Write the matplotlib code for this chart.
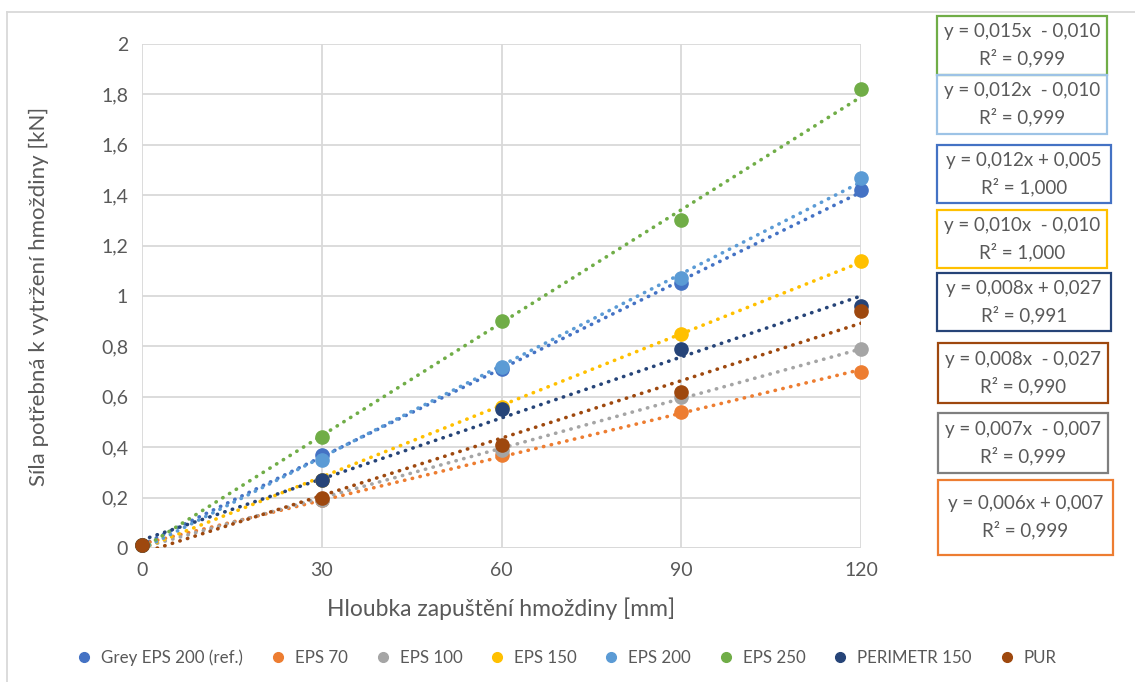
import numpy as np
import matplotlib.pyplot as plt
from matplotlib.patches import Rectangle
from matplotlib.lines import Line2D

plt.rcParams['font.family'] = ['Lato', 'DejaVu Sans']

# data
hloubka = [0, 30, 60, 90, 120]
nazvy = ["Grey EPS 200 (ref.)", "EPS 70", "EPS 100", "EPS 150", "EPS 200",
         "EPS 250", "PERIMETR 150", "PUR"]
sila_grey200 = [0.01, 0.37, 0.71, 1.05, 1.42]
sila_eps70 = [0.01, 0.19, 0.37, 0.54, 0.70]
sila_eps100 = [0.01, 0.19, 0.39, 0.60, 0.79]
sila_eps150 = [0.01, 0.27, 0.56, 0.85, 1.14]
sila_eps200 = [0.01, 0.35, 0.72, 1.07, 1.47]
sila_eps250 = [0.01, 0.44, 0.90, 1.30, 1.82]
sila_perimetr = [0.01, 0.27, 0.55, 0.79, 0.96]
sila_pur = [0.01, 0.20, 0.41, 0.62, 0.94]
serie = [sila_grey200, sila_eps70, sila_eps100, sila_eps150, sila_eps200,
         sila_eps250, sila_perimetr, sila_pur]
barvy = ["#4472C4", "#ED7D31", "#A5A5A5", "#FFC000", "#5B9BD5",
         "#70AD47", "#264478", "#9E480E"]

# rovnice trendu (popisky z grafu), poradi shora dolu
rovnice = ["y = 0,015x  - 0,010\nR² = 0,999",
           "y = 0,012x  - 0,010\nR² = 0,999",
           "y = 0,012x + 0,005\nR² = 1,000",
           "y = 0,010x  - 0,010\nR² = 1,000",
           "y = 0,008x + 0,027\nR² = 0,991",
           "y = 0,008x  - 0,027\nR² = 0,990",
           "y = 0,007x  - 0,007\nR² = 0,999",
           "y = 0,006x + 0,007\nR² = 0,999"]
barvy_ramu = ["#70AD47", "#9DC3E6", "#4472C4", "#FFC000", "#264478",
              "#9E480E", "#7F7F7F", "#ED7D31"]

W, H = 1135, 682
fig = plt.figure(figsize=(W / 100, H / 100), dpi=100)
ax = fig.add_axes([142 / W, 1 - 548 / H, (861 - 142) / W, (548 - 44) / H])

xt = np.linspace(0, 120, 200)
for y, c in zip(serie, barvy):
    k = np.polyfit(hloubka, y, 1)
    ax.plot(xt, np.polyval(k, xt), ls=(0, (0.1, 2.1)), lw=2.6, color=c,
            dash_capstyle='round', zorder=3)
for y, c, n in zip(serie, barvy, nazvy):
    ax.plot(hloubka, y, 'o', ms=9.5, color=c, mec=c, label=n, zorder=4,
            clip_on=False)

ax.set_xlim(0, 120)
ax.set_ylim(0, 2)
ax.set_xticks([0, 30, 60, 90, 120])
yt = np.arange(0, 2.01, 0.2)
ax.set_yticks(yt)
ax.set_yticklabels([("%g" % v).replace(".", ",") for v in np.round(yt, 1)])
ax.grid(True, color="#D9D9D9", lw=1.3)
ax.set_axisbelow(True)
for s in ax.spines.values():
    s.set_visible(False)
ax.axhline(0, color="#D9D9D9", lw=1.3, zorder=1)
ax.tick_params(length=0, labelsize=14, colors="#595959", pad=10)
ax.set_xlabel("Hloubka zapuštění hmoždiny [mm]", fontsize=16.5, color="#595959")
ax.set_ylabel("Síla potřebná k vytržení hmoždiny [kN]", fontsize=16,
              color="#595959")
ax.xaxis.set_label_coords(0.5, -0.097)
ax.yaxis.set_label_coords(-0.13, 0.5)

h = [Line2D([], [], marker='o', ls='none', color=c, ms=7) for c in barvy]
fig.legend(h, nazvy, loc='center', bbox_to_anchor=(562 / W, 1 - 658 / H),
           ncol=8, frameon=False, fontsize=12.2, handletextpad=0.0,
           columnspacing=1.05, labelcolor="#595959")

# ramecky s rovnicemi
boxy = [(937, 16, 1107, 75), (937, 75, 1107, 134), (937, 145, 1111, 203),
        (937, 210, 1107, 268), (937, 273, 1111, 331), (938, 343, 1108, 403),
        (938, 413, 1108, 473), (938, 480, 1113, 555)]
for (x0, y0, x1, y1), t, c in zip(boxy, rovnice, barvy_ramu):
    fig.patches.append(Rectangle((x0 / W, 1 - y1 / H), (x1 - x0) / W,
                                 (y1 - y0) / H, transform=fig.transFigure,
                                 fill=False, ec=c, lw=1.6))
    fig.text((x0 + x1) / 2 / W, 1 - (y0 + y1) / 2 / H, t, ha='center',
             va='center', fontsize=13.5, color="#595959", linespacing=1.55)

# okraj grafu
fig.add_artist(Line2D([7 / W, 7 / W], [0, 1 - 12 / H], color="#D9D9D9",
                      lw=1.3, transform=fig.transFigure))
fig.add_artist(Line2D([7 / W, 1], [1 - 12 / H, 1 - 12 / H], color="#D9D9D9",
                      lw=1.3, transform=fig.transFigure))

fig.savefig("out.png", dpi=100)
